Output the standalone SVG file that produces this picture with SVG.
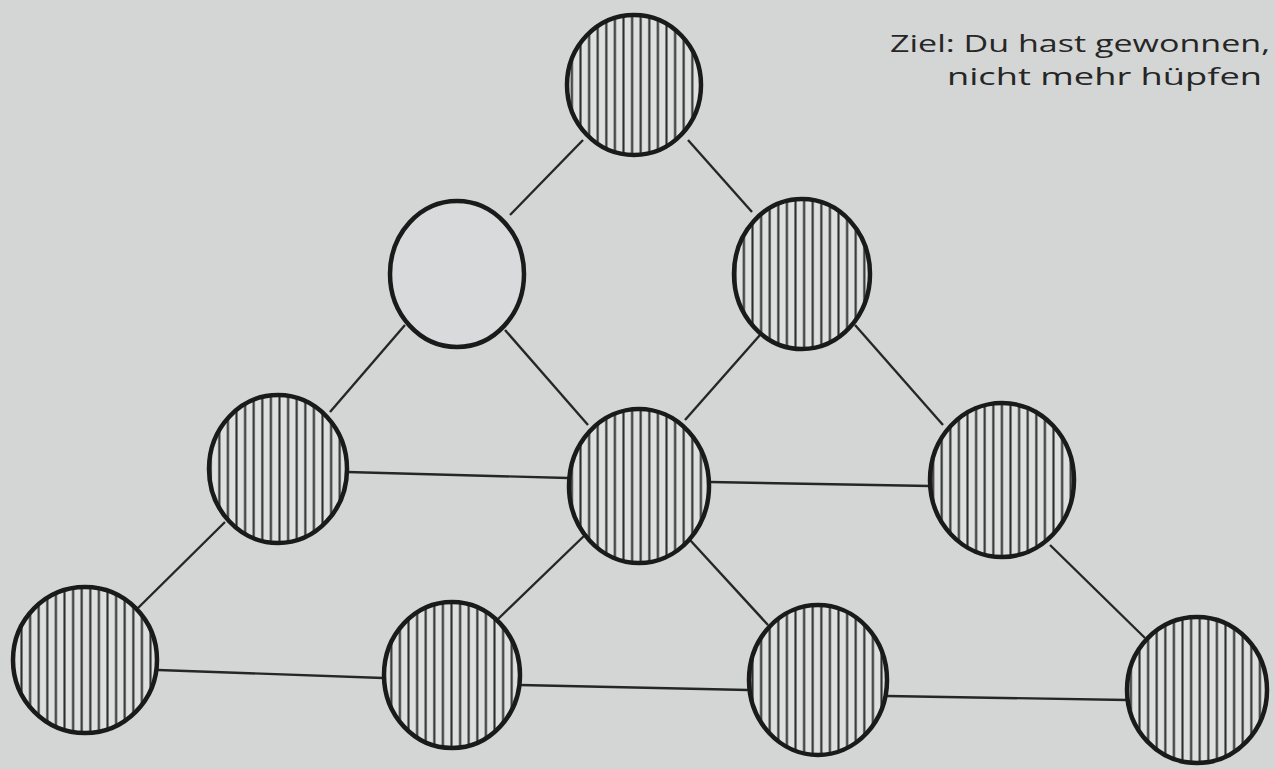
<svg xmlns="http://www.w3.org/2000/svg" width="1275" height="769" viewBox="0 0 1275 769">
<defs>
<pattern id="hatch" patternUnits="userSpaceOnUse" width="8.6" height="20">
<rect width="8.6" height="20" fill="#dedfdf"/>
<line x1="4.3" y1="0" x2="4.3" y2="20" stroke="#2e2e2e" stroke-width="2.1"/>
</pattern>
</defs>
<style>
.c{stroke:#1a1a1a;stroke-width:4.5}
.h{fill:url(#hatch)}
.e{fill:#d9dadb}
.l{stroke:#262626;stroke-width:2.4;fill:none}
.t{font-family:"Open Sans","DejaVu Sans",sans-serif;font-size:24px;fill:#262626}
</style>
<rect width="1275" height="769" fill="#d4d6d5"/>
<g id="connectors">
<line class="l" x1="583" y1="140" x2="510" y2="215"/>
<line class="l" x1="688" y1="140" x2="752" y2="212"/>
<line class="l" x1="405" y1="325" x2="330" y2="412"/>
<line class="l" x1="505" y1="330" x2="588" y2="425"/>
<line class="l" x1="760" y1="335" x2="685" y2="420"/>
<line class="l" x1="855" y1="325" x2="943" y2="425"/>
<line class="l" x1="347" y1="472" x2="568" y2="478"/>
<line class="l" x1="710" y1="482" x2="930" y2="486"/>
<line class="l" x1="225" y1="522" x2="138" y2="608"/>
<line class="l" x1="585" y1="535" x2="497" y2="620"/>
<line class="l" x1="690" y1="540" x2="768" y2="625"/>
<line class="l" x1="1050" y1="545" x2="1145" y2="638"/>
<line class="l" x1="158" y1="670" x2="383" y2="678"/>
<line class="l" x1="520" y1="685" x2="748" y2="690"/>
<line class="l" x1="887" y1="696" x2="1127" y2="700"/>
</g>
<g id="n1"><ellipse class="c h" cx="634" cy="85" rx="67" ry="70"/></g>
<g id="n2"><ellipse class="c e" cx="457" cy="274" rx="67" ry="73"/></g>
<g id="n3"><ellipse class="c h" cx="802" cy="274" rx="68" ry="75"/></g>
<g id="n4"><ellipse class="c h" cx="278" cy="469" rx="69" ry="74"/></g>
<g id="n5"><ellipse class="c h" cx="639" cy="486" rx="70" ry="77"/></g>
<g id="n6"><ellipse class="c h" cx="1002" cy="480" rx="72" ry="77"/></g>
<g id="n7"><ellipse class="c h" cx="85" cy="660" rx="72" ry="73"/></g>
<g id="n8"><ellipse class="c h" cx="452" cy="675" rx="68" ry="73"/></g>
<g id="n9"><ellipse class="c h" cx="818" cy="680" rx="69" ry="75"/></g>
<g id="n10"><ellipse class="c h" cx="1197" cy="690" rx="70" ry="73"/></g>
<g id="label">
<text class="t" x="890" y="52" textLength="380" lengthAdjust="spacingAndGlyphs">Ziel: Du hast gewonnen,</text>
<text class="t" x="947" y="85" textLength="315" lengthAdjust="spacingAndGlyphs">nicht mehr hüpfen</text>
</g>
</svg>
